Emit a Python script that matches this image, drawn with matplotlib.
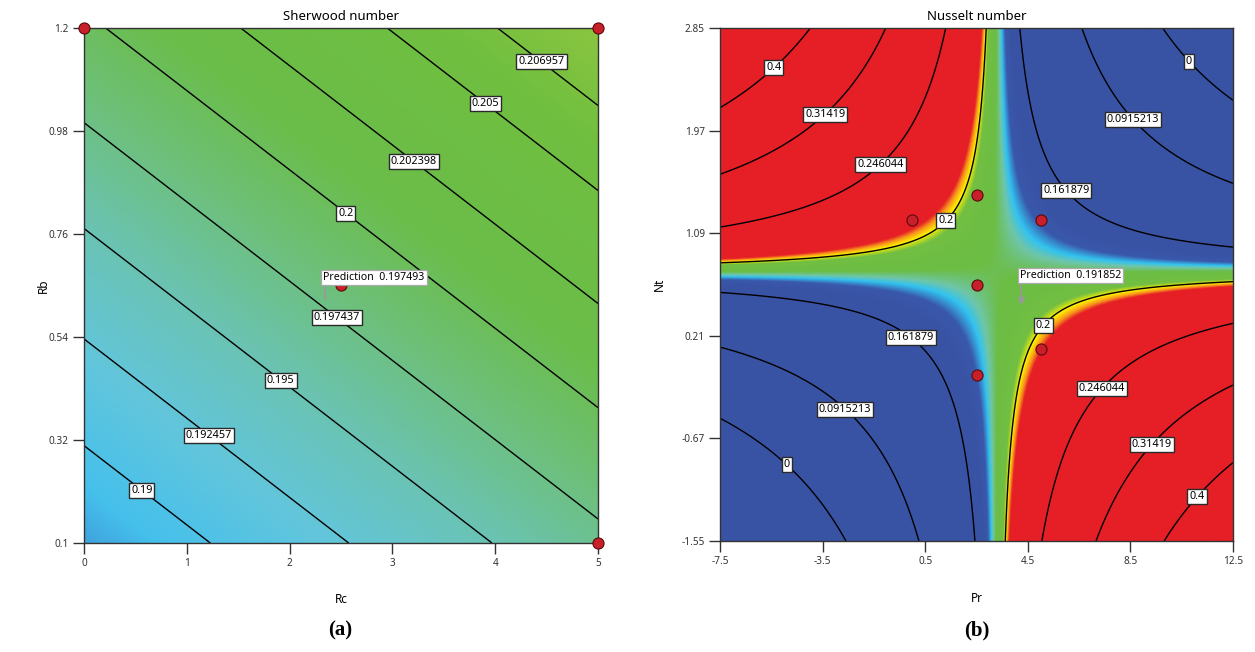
import numpy as np
import matplotlib
matplotlib.use("Agg")
import matplotlib.pyplot as plt
from matplotlib.colors import LinearSegmentedColormap, Normalize

plt.rcParams.update({"font.family": ["Noto Sans", "DejaVu Sans"]})

# ---- Sherwood number: linear model Sh = a + b*Rc + c*Rb ----
sh_coef = [0.18668, 0.001825, 0.01078]
rc_range = [0, 5]
rb_range = [0.1, 1.2]
rc_ticks = [0, 1, 2, 3, 4, 5]
rb_ticks = [0.1, 0.32, 0.54, 0.76, 0.98, 1.2]
rb_ticklabels = ["0.1", "0.32", "0.54", "0.76", "0.98", "1.2"]
sh_levels = [0.19, 0.192457, 0.195, 0.197437, 0.2, 0.202398, 0.205, 0.206957]
sh_labels = ["0.19", "0.192457", "0.195", "0.197437", "0.2", "0.202398", "0.205", "0.206957"]
sh_label_pos = [(0.6, 0.224), (1.25, 0.34), (1.95, 0.458), (2.5, 0.592),
                (2.59, 0.817), (3.25, 0.927), (3.95, 1.05), (4.49, 1.139)]
sh_design_rc = [0, 5, 5, 2.5]
sh_design_rb = [1.2, 1.2, 0.1, 0.65]
sh_pred = (2.344, 0.619, "0.197493")
sh_cstops = [0.1865, 0.189, 0.192, 0.195, 0.198, 0.201, 0.206, 0.209]
sh_ccolors = ["#3a86d0", "#45c0ec", "#62c6dc", "#6ac3b4", "#6ec07c", "#6bbd4a", "#70bf40", "#8dc63f"]

# ---- Nusselt number: quadratic model in Pr, Nt ----
# Nu = b0 + b1*Pr + b2*Nt + b12*Pr*Nt + b11*Pr^2 + b22*Nt^2
nu_coef = [0.15348, 0.0105803, 0.0454374, -0.013944, 7.14263e-6, 0.000112305]
pr_range = [-7.5, 12.5]
nt_range = [-1.55, 2.85]
pr_ticks = [-7.5, -3.5, 0.5, 4.5, 8.5, 12.5]
nt_ticks = [-1.55, -0.67, 0.21, 1.09, 1.97, 2.85]
nu_levels = [0, 0.0915213, 0.161879, 0.2, 0.246044, 0.31419, 0.4]
nu_labels = ["0", "0.0915213", "0.161879", "0.2", "0.246044", "0.31419", "0.4"]
nu_label_pos = [(-5.52, 2.536), (-3.51, 2.137), (-1.34, 1.703), (1.24, 1.21),
                (10.88, 2.585), (8.71, 2.088), (6.13, 1.48),
                (0.017, 0.216), (-2.5, -0.389), (-4.78, -0.868),
                (4.92, 0.338), (7.24, -0.218), (9.2, -0.698), (10.98, -1.148)]
nu_design_pr = [0, 2.5, 5, 2.5, 5, 2.5]
nu_design_nt = [1.2, 1.42, 1.2, 0.65, 0.1, -0.13]
nu_pred = (4.25, 0.517, "0.191852")
nu_cstops = [0.172, 0.1785, 0.1825, 0.185, 0.1885, 0.1975, 0.2005, 0.203, 0.205]
nu_ccolors = ["#3953a4", "#3a58ab", "#33c3f0", "#6fc6a8", "#6cbd45", "#72bf42",
              "#fff200", "#f7941d", "#e61f26"]


def make_cmap(stops, colors):
    lo, hi = stops[0], stops[-1]
    pos = [(s - lo) / (hi - lo) for s in stops]
    return LinearSegmentedColormap.from_list("de", list(zip(pos, colors))), Normalize(lo, hi)


def panel(ax, X, Y, Z, stops, colors, levels, labels, label_pos, xr, yr):
    cmap, norm = make_cmap(stops, colors)
    ax.imshow(Z, extent=[xr[0], xr[1], yr[0], yr[1]], origin="lower", aspect="auto",
              cmap=cmap, norm=norm, interpolation="bilinear", zorder=0)
    cs = ax.contour(X, Y, Z, levels=levels, colors="black", linewidths=1.0, zorder=2)
    fmt = dict(zip(levels, labels))
    texts = ax.clabel(cs, levels=levels, manual=label_pos, inline=False, fmt=fmt, fontsize=7.8)
    for t in texts:
        t.set_rotation(0)
        t.set_zorder(4)
        t.set_bbox(dict(boxstyle="square,pad=0.18", fc="white", ec="#2a2a2a", lw=1.0))
    ax.set_xlim(xr)
    ax.set_ylim(yr)
    ax.tick_params(direction="out", length=8, width=1, labelsize=7.2, colors="#333333", pad=3)
    for s in ax.spines.values():
        s.set_color("#333333")
        s.set_linewidth(1)


def pred_flag(ax, x, y, val, dy_line, dx_text):
    ax.plot([x, x], [y, y + dy_line], color="#999999", lw=1.2, zorder=5, clip_on=False)
    ax.text(x + dx_text, y + dy_line, f"Prediction  {val}", ha="left", va="bottom", fontsize=7.6,
            zorder=6, bbox=dict(boxstyle="square,pad=0.2", fc="white", ec="#aaaaaa", lw=0.9))


fig = plt.figure(figsize=(12.55, 6.52), dpi=100)
ax1 = fig.add_axes([84 / 1255, 1 - 543 / 652, 514 / 1255, 515 / 652])
ax2 = fig.add_axes([720 / 1255, 1 - 541 / 652, 513 / 1255, 513 / 652])

# Sherwood panel
rc = np.linspace(*rc_range, 400)
rb = np.linspace(*rb_range, 400)
RC, RB = np.meshgrid(rc, rb)
SH = sh_coef[0] + sh_coef[1] * RC + sh_coef[2] * RB
panel(ax1, RC, RB, SH, sh_cstops, sh_ccolors, sh_levels, sh_labels, sh_label_pos,
      rc_range, rb_range)
ax1.set_xticks(rc_ticks)
ax1.set_yticks(rb_ticks, rb_ticklabels)
ax1.plot(sh_design_rc, sh_design_rb, "o", ms=8, mfc="#c8202b", mec="#5a0a0a", mew=0.8,
         clip_on=False, zorder=5)
pred_flag(ax1, sh_pred[0], sh_pred[1], sh_pred[2], 0.036, -0.015)
ax1.set_title("Sherwood number", fontsize=9.5, pad=6)
ax1.set_xlabel("Rc", fontsize=8.5, labelpad=17)
ax1.set_ylabel("Rb", fontsize=8.5, labelpad=-1)

# Nusselt panel
pr = np.linspace(*pr_range, 500)
nt = np.linspace(*nt_range, 500)
PR, NT = np.meshgrid(pr, nt)
b = nu_coef
NU = b[0] + b[1] * PR + b[2] * NT + b[3] * PR * NT + b[4] * PR ** 2 + b[5] * NT ** 2
panel(ax2, PR, NT, NU, nu_cstops, nu_ccolors, nu_levels, nu_labels, nu_label_pos,
      pr_range, nt_range)
ax2.set_xticks(pr_ticks, [str(v) for v in pr_ticks])
ax2.set_yticks(nt_ticks, [str(v) for v in nt_ticks])
ax2.plot(nu_design_pr, nu_design_nt, "o", ms=8, mfc="#c8202b", mec="#5a0a0a", mew=0.8,
         zorder=5)
ax2.plot([nu_pred[0]], [nu_pred[1]], marker="v", ms=4, color="#999999", zorder=5)
pred_flag(ax2, nu_pred[0], nu_pred[1], nu_pred[2], 0.163, -0.06)
ax2.set_title("Nusselt number", fontsize=9.5, pad=6)
ax2.set_xlabel("Pr", fontsize=8.5, labelpad=18)
ax2.set_ylabel("Nt", fontsize=8.5, labelpad=11)

fig.text(340 / 1255, 1 - 630 / 652, "(a)", ha="center", va="center", fontsize=15,
         fontweight="bold", family="Liberation Serif")
fig.text(977 / 1255, 1 - 630 / 652, "(b)", ha="center", va="center", fontsize=15,
         fontweight="bold", family="Liberation Serif")

fig.savefig("out.png", dpi=100)
